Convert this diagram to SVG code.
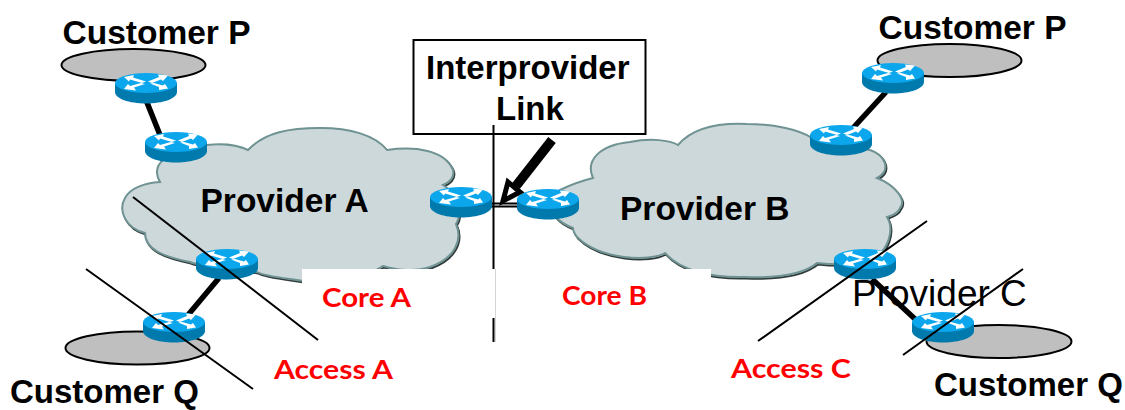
<svg xmlns="http://www.w3.org/2000/svg" xmlns:xlink="http://www.w3.org/1999/xlink" width="1125" height="410" viewBox="0 0 1125 410">
<style>
.lbl{font-family:"Liberation Sans",Arial,sans-serif;font-weight:700;font-size:33px;fill:#000}
.lbl2{font-size:33.500px}
.reg{font-family:"Liberation Sans",Arial,sans-serif;font-size:37px;fill:#000}
.red{font-family:Lato,"Liberation Sans",sans-serif;font-weight:700;font-size:26px;fill:#f00}
.site{fill:#bfbfbf;stroke:#000;stroke-width:2}
.cloud{fill:#cdd8da;stroke:#6f9292;stroke-width:2;stroke-linejoin:miter}
.shadow{fill:none;stroke:#2f3a3a;stroke-width:2}
.thick{stroke:#000;stroke-width:5.500;fill:none}
.thin{stroke:#000;stroke-width:2;fill:none}
</style>
<defs>
<g id="router">
<path d="M0 10V19C0 25.500 14 30.500 31 30.500S62 25.500 62 19V10Z" fill="#0079ac"/>
<ellipse cx="31" cy="10" rx="31" ry="10" fill="#0ba6ec"/>
<g fill="#fff">
<polygon points="9,4 19,2 18,4.500 31,8.500 27,10 15,6.500 14,8.500"/>
<polygon points="53,2.500 43,1.500 44,4 33,8.500 37,10 46,6.500 48,8"/>
<polygon points="9,16 21,17.500 19,14.500 30,11 26,10 15,13 13,11"/>
<polygon points="53,15.500 44,17 44,14 35,10.500 39,10 48,12.500 50,11"/>
</g>
</g>
<path id="cloudA" d="M160 182C150 165 165 150 207 145C225 143 240 146 248 150C265 132 290 128 320 128C350 128 375 135 387 150C415 146 445 150 453 170C455 178 450 182 443 185C460 195 462 215 456 224C463 240 455 258 430 267C415 272 395 270 383 266C360 282 320 285 290 279C275 277 262 275 257 272C235 268 200 267 190 262C165 257 145 250 145 233C125 228 118 210 125 198C130 188 145 183 160 182Z"/>
<path id="cloudB" d="M593 178C585 160 600 145 630 142C650 138 670 140 678 145C695 125 725 123 747 124C775 124 800 130 812 138L870 150C885 155 892 170 877 178C895 185 907 200 900 208C898 214 890 216 887 217C895 230 888 250 873 260C855 265 835 265 817 263C800 277 770 278 745 277C710 278 680 270 665 253C650 262 600 260 577 237C574 233 573 230 573 228C565 225 560 222 555 216L560 190C570 185 585 180 593 178Z"/>
</defs>
<rect width="1125" height="410" fill="#fff"/>

<g id="cloud-provider-a">
<use xlink:href="#cloudA" href="#cloudA" class="shadow" transform="translate(1 1.5)"/>
<use xlink:href="#cloudA" href="#cloudA" class="cloud"/>
</g>
<g id="cloud-provider-b">
<use xlink:href="#cloudB" href="#cloudB" class="shadow" transform="translate(1 1.5)"/>
<use xlink:href="#cloudB" href="#cloudB" class="cloud"/>
</g>
<rect x="302" y="269" width="409" height="62" fill="#fff"/>

<g id="customer-p-left"><ellipse class="site" cx="133.500" cy="65" rx="72" ry="16"/></g>
<g id="customer-q-left"><ellipse class="site" cx="137.500" cy="348" rx="72" ry="16.500"/></g>
<g id="customer-p-right"><ellipse class="site" cx="949.500" cy="60.500" rx="72" ry="16.500"/></g>
<g id="customer-q-right"><ellipse class="site" cx="999" cy="341.500" rx="72.500" ry="16.500"/></g>

<g id="connectors">
<line class="thick" x1="146" y1="100" x2="160" y2="135"/>
<line class="thick" x1="219" y1="278" x2="188" y2="315"/>
<line class="thick" x1="886" y1="92" x2="853" y2="128"/>
<line class="thick" x1="872" y1="279" x2="915" y2="319"/>
<path d="M490 203.500H519M490 206.500H519" class="thin"/>
</g>

<g id="router-p-left"><use xlink:href="#router" href="#router" x="115" y="73"/></g>
<g id="router-a-top"><use xlink:href="#router" href="#router" x="145" y="132"/></g>
<g id="router-a-bottom"><use xlink:href="#router" href="#router" x="196" y="249"/></g>
<g id="router-q-left"><use xlink:href="#router" href="#router" x="143" y="312"/></g>
<g id="router-a-edge"><use xlink:href="#router" href="#router" x="430" y="187"/></g>
<g id="router-b-edge"><use xlink:href="#router" href="#router" x="517" y="189"/></g>
<g id="router-b-top"><use xlink:href="#router" href="#router" x="810" y="125"/></g>
<g id="router-p-right"><use xlink:href="#router" href="#router" x="862" y="63"/></g>
<g id="router-b-bottom"><use xlink:href="#router" href="#router" x="834" y="249"/></g>
<g id="router-q-right"><use xlink:href="#router" href="#router" x="912" y="312"/></g>

<g id="interprovider-box">
<rect x="413.500" y="40" width="232" height="94" fill="#fff" stroke="#000" stroke-width="2"/>
<text class="lbl" x="426" y="79">Interprovider</text>
<text class="lbl" x="496" y="120">Link</text>
</g>

<line x1="495.500" y1="269" x2="495.500" y2="342" stroke="#d4d4d4" stroke-width="1"/>
<path class="thin" d="M493.500 125V269M493.500 318V342"/>
<g id="link-arrow">
<line x1="552" y1="140" x2="516" y2="186" stroke="#000" stroke-width="9.500"/>
<polygon points="503,201 508,182 520,192" fill="#fff" stroke="#000" stroke-width="5"/>
</g>

<line class="thin" x1="133" y1="197" x2="318" y2="340"/>
<line class="thin" x1="86" y1="269" x2="253" y2="389"/>
<line class="thin" x1="927" y1="221" x2="758" y2="341"/>
<line class="thin" x1="1023" y1="269" x2="903" y2="355"/>

<text class="lbl lbl2" x="62.500" y="44">Customer P</text>
<text class="lbl lbl2" x="878.500" y="38.500">Customer P</text>
<text class="lbl" x="10" y="402.500">Customer Q</text>
<text class="lbl" x="934" y="396">Customer Q</text>
<text class="lbl lbl2" x="200.500" y="212">Provider A</text>
<text class="lbl lbl2" x="620" y="220">Provider B</text>
<text class="reg" x="852" y="306">Provider C</text>
<text class="red" x="322" y="307" textLength="89" lengthAdjust="spacingAndGlyphs">Core A</text>
<text class="red" x="562" y="305" textLength="85" lengthAdjust="spacingAndGlyphs">Core B</text>
<text class="red" x="274" y="379" textLength="119" lengthAdjust="spacingAndGlyphs">Access A</text>
<text class="red" x="731" y="378" textLength="120" lengthAdjust="spacingAndGlyphs">Access C</text>
</svg>
